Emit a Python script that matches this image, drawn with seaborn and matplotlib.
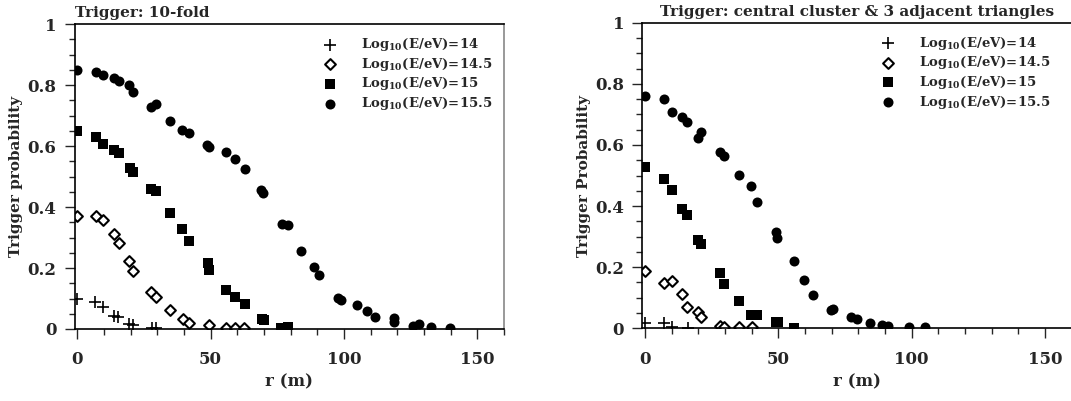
import numpy as np
import matplotlib
matplotlib.use("Agg")
import matplotlib.pyplot as plt
import matplotlib.ticker as mticker
import pandas as pd
import seaborn as sns

# ---- data (r in m, trigger probability) ----
labels = [r"Log$_{10}$(E/eV)=14", r"Log$_{10}$(E/eV)=14.5",
          r"Log$_{10}$(E/eV)=15", r"Log$_{10}$(E/eV)=15.5"]

# left panel: 10-fold trigger
r14_a = [0, 6.6, 9.8, 13.9, 15.4, 19.5, 20.9, 28, 29.5]
p14_a = [0.10, 0.090, 0.073, 0.044, 0.040, 0.016, 0.013, 0.002, 0.002]
r145_a = [0, 6.9, 9.8, 13.9, 15.6, 19.5, 20.9, 27.8, 29.5, 34.9, 39.5, 41.9,
          49.4, 55.6, 59.1, 62.6]
p145_a = [0.371, 0.371, 0.358, 0.311, 0.281, 0.223, 0.190, 0.120, 0.106, 0.062,
          0.034, 0.021, 0.012, 0.004, 0.004, 0.004]
r15_a = [0, 6.9, 9.8, 13.9, 15.6, 19.6, 20.9, 27.8, 29.5, 34.9, 39.4, 41.9,
         48.9, 49.4, 55.8, 59.1, 62.9, 69.1, 70.0, 76.4, 78.9]
p15_a = [0.65, 0.629, 0.607, 0.587, 0.578, 0.527, 0.516, 0.459, 0.454, 0.380,
         0.327, 0.290, 0.216, 0.194, 0.128, 0.106, 0.082, 0.032, 0.030, 0.004,
         0.005]
r155_a = [0, 6.9, 9.8, 13.9, 15.6, 19.5, 20.9, 27.6, 29.5, 34.9, 39.4, 42.0,
          48.8, 49.4, 55.8, 59.1, 62.9, 68.9, 69.8, 76.6, 79.1, 83.8, 88.9,
          90.8, 97.6, 98.8, 104.8, 108.5, 111.8, 118.6, 118.8, 125.8, 128.3,
          132.6, 139.8]
p155_a = [0.85, 0.842, 0.833, 0.824, 0.813, 0.80, 0.778, 0.730, 0.739, 0.682,
          0.653, 0.642, 0.604, 0.596, 0.582, 0.557, 0.525, 0.456, 0.447, 0.345,
          0.342, 0.255, 0.202, 0.177, 0.103, 0.096, 0.079, 0.059, 0.040, 0.035,
          0.023, 0.010, 0.015, 0.006, 0.002]

# right panel: central cluster & 3 adjacent triangles
r14_b = [0, 7.0, 10.0, 16.0]
p14_b = [0.018, 0.018, 0.005, 0.0]
r145_b = [0, 7.0, 10.0, 14.0, 15.7, 19.9, 21.0, 28.0, 29.7, 35.1, 40.0]
p145_b = [0.188, 0.147, 0.156, 0.111, 0.071, 0.052, 0.036, 0.009, 0.005, 0.003,
          0.003]
r15_b = [0, 7.0, 10.0, 14.0, 15.7, 19.9, 21.0, 28.0, 29.7, 35.1, 39.6, 42.1,
         49.1, 49.9, 56.0]
p15_b = [0.529, 0.490, 0.454, 0.390, 0.370, 0.289, 0.277, 0.180, 0.144, 0.090,
         0.044, 0.044, 0.020, 0.021, 0.002]
r155_b = [0, 7.0, 10.0, 13.9, 15.7, 19.8, 21.0, 28.0, 29.7, 35.1, 39.7, 42.1,
          49.1, 49.6, 56.0, 59.5, 63.1, 69.7, 70.4, 77.2, 79.5, 84.4, 88.8,
          91.2, 99.1, 105.2]
p155_b = [0.760, 0.750, 0.707, 0.692, 0.674, 0.624, 0.642, 0.578, 0.563, 0.502,
          0.467, 0.414, 0.315, 0.296, 0.221, 0.159, 0.108, 0.060, 0.064, 0.037,
          0.030, 0.018, 0.011, 0.009, 0.003, 0.003]

titles = ["Trigger: 10-fold", "Trigger: central cluster & 3 adjacent triangles"]
ylabels = ["Trigger probability", "Trigger Probability"]

sns.set_style("ticks")
plt.rcParams["font.family"] = ["DejaVu Serif"]
plt.rcParams["font.weight"] = "bold"
plt.rcParams["axes.labelweight"] = "bold"
plt.rcParams["axes.titleweight"] = "bold"
plt.rcParams["mathtext.fontset"] = "dejavuserif"
plt.rcParams["mathtext.default"] = "bf"

fig = plt.figure(figsize=(10.71, 4.01), dpi=100)
axs = [fig.add_axes([0.0697, 0.1796, 0.4008, 0.760]),
       fig.add_axes([0.5997, 0.1813, 0.4008, 0.762])]

styles = [dict(marker="+", s=75, color="black", linewidth=1.2),
          dict(marker="D", s=30, facecolor="white", edgecolor="black", linewidth=1.5),
          dict(marker="s", s=48, color="black", linewidth=0),
          dict(marker="o", s=52, color="black", linewidth=0)]

panels = [[(r14_a, p14_a), (r145_a, p145_a), (r15_a, p15_a), (r155_a, p155_a)],
          [(r14_b, p14_b), (r145_b, p145_b), (r15_b, p15_b), (r155_b, p155_b)]]
legend_anchor = [(1.0, 1.0), (0.978, 1.0)]

for k, ax in enumerate(axs):
    for (r, p), lab, st in zip(panels[k], labels, styles):
        df = pd.DataFrame({"r": r, "p": p})
        sns.scatterplot(data=df, x="r", y="p", label=lab, ax=ax, **st)
    ax.set_xlim(-1, 160)
    ax.set_ylim(0, 1)
    ax.xaxis.set_major_locator(mticker.MultipleLocator(50))
    ax.xaxis.set_minor_locator(mticker.MultipleLocator(10))
    ax.yaxis.set_major_locator(mticker.MultipleLocator(0.2))
    ax.yaxis.set_minor_locator(mticker.MultipleLocator(0.05))
    ax.yaxis.set_major_formatter(mticker.FuncFormatter(lambda v, _: "%g" % round(v, 2)))
    ax.tick_params(which="major", length=7, width=1, labelsize=12, pad=6)
    ax.tick_params(axis="x", which="major", pad=9)
    ax.tick_params(which="minor", length=4.5, width=1)
    for s in ax.spines.values():
        s.set_linewidth(1.2)
        s.set_color("black")
    ax.spines["right"].set_color("#888888")
    ax.set_xlabel("r (m)", fontsize=12, labelpad=4)
    ax.set_ylabel(ylabels[k], fontsize=11, labelpad=3)
    ax.legend(loc="upper right", bbox_to_anchor=legend_anchor[k], frameon=False,
              fontsize=9.5, handletextpad=1.7, labelspacing=0.2,
              borderaxespad=0.5, handlelength=1.2)

axs[0].set_title(titles[0], loc="left", fontsize=11, pad=5, x=0.0)
axs[1].set_title(titles[1], fontsize=11, pad=5)

fig.savefig("out.png", dpi=100)
